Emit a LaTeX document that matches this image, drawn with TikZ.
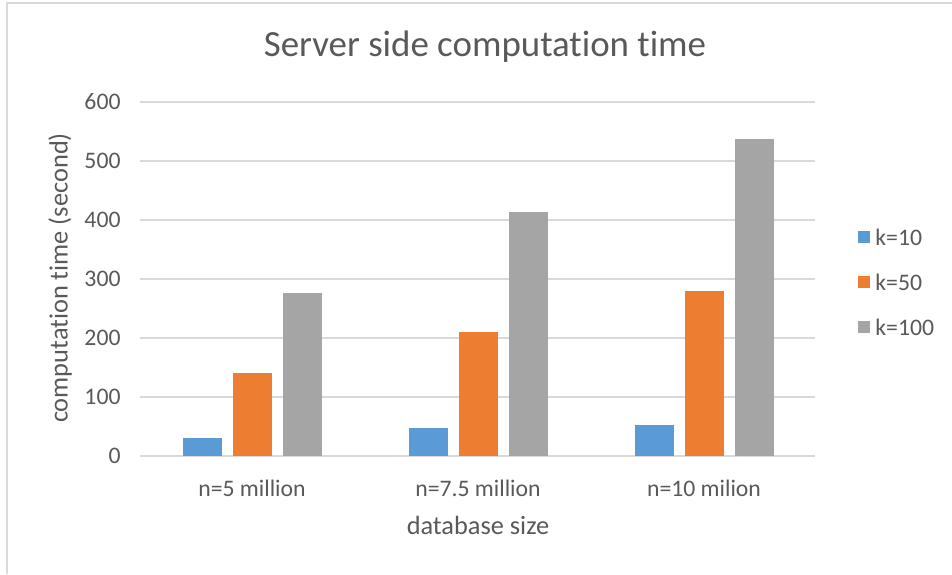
\documentclass[tikz,border=0pt]{standalone}
\usepackage{fontspec}
\setmainfont{Carlito}[Ligatures=NoCommon]
\definecolor{txt}{HTML}{595959}
\definecolor{grid}{HTML}{D9D9D9}
\definecolor{kten}{HTML}{5B9BD5}
\definecolor{kfifty}{HTML}{ED7D31}
\definecolor{khund}{HTML}{A5A5A5}
\begin{document}
\begin{tikzpicture}[x=0.02cm,y=-0.02cm,line width=0.5,
  lbl/.style={text=txt,font=\fontsize{13.5}{16}\selectfont,inner sep=0pt},
  axt/.style={text=txt,font=\fontsize{15}{18}\selectfont,inner sep=0pt}]
\useasboundingbox (0,0) rectangle (952,574);
\draw[grid,line width=0.9pt] (7,574) -- (7,3) -- (952,3);
\node[text=txt,font=\fontsize{21}{25}\selectfont,inner sep=0pt] (title) at (485,47) {Server side computation time};
% grid and ticks
\foreach \v in {0,100,...,600} {
  \draw[grid,line width=0.8pt] (140,456-0.59*\v) -- (815,456-0.59*\v);
  \node[lbl,anchor=east] (t\v) at (121,456-0.59*\v) {\v};
}
% bars
\foreach \g/\a/\b/\c in {183/30/141/276,409/47/211/413,635/52/280/537} {
  \fill[kten] (\g,456) rectangle (\g+39,456-0.59*\a);
  \fill[kfifty] (\g+50,456) rectangle (\g+89,456-0.59*\b);
  \fill[khund] (\g+100,456) rectangle (\g+139,456-0.59*\c);
}
\node[lbl] (n5) at (252,488) {n=5 million};
\node[lbl] (n75) at (478,488) {n=7.5 million};
\node[lbl] (n10) at (704,488) {n=10 milion};
\node[axt] (xtitle) at (478,525) {database size};
\node[axt,rotate=90] (ytitle) at (60,278) {computation time (second)};
% legend
\fill[kten] (858,231) rectangle (870,243);
\node[lbl,anchor=west] (k10) at (875,237) {k=10};
\fill[kfifty] (858,276) rectangle (870,288);
\node[lbl,anchor=west] (k50) at (875,282) {k=50};
\fill[khund] (858,321) rectangle (870,333);
\node[lbl,anchor=west] (k100) at (875,327) {k=100};
\end{tikzpicture}
\end{document}
